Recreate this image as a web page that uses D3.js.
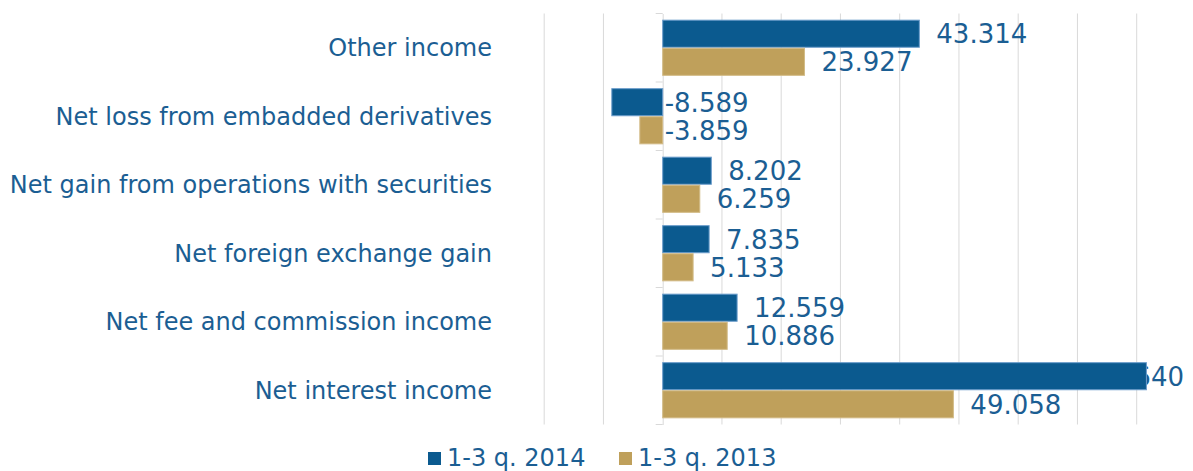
<!DOCTYPE html>
<html>
<head>
<meta charset="utf-8">
<script src="https://cdn.jsdelivr.net/npm/d3@7"></script>
<style>
  body { margin: 0; background: #fff; }
  svg { display: block; font-family: "DejaVu Sans", Verdana, sans-serif; }
</style>
</head>
<body>
<svg id="chart" width="1193" height="471"></svg>
<script>
const categories = [
  "Other income",
  "Net loss from embadded derivatives",
  "Net gain from operations with securities",
  "Net foreign exchange gain",
  "Net fee and commission income",
  "Net interest income"
];
const seriesNames = ["1-3 q. 2014", "1-3 q. 2013"];
const values2014 = [43.314, -8.589, 8.202, 7.835, 12.559, 81.640];
const values2013 = [23.927, -3.859, 6.259, 5.133, 10.886, 49.058];
const valueLabels2014 = ["43.314", "-8.589", "8.202", "7.835", "12.559", "81.640"];
const valueLabels2013 = ["23.927", "-3.859", "6.259", "5.133", "10.886", "49.058"];
const seriesColors = ["#0b5a8f", "#bfa05b"];
const seriesStrokes = ["#6b9ccb", "#d2bb86"];

const svg = d3.select("#chart");
const textColor = "#1b5e93";

const plotTop = 13.5, plotBottom = 424.5, plotRight = 1184;
const x = d3.scaleLinear().domain([-20, 80]).range([544.2, 1136.7]);
const y = d3.scaleBand().domain(categories).range([plotTop, plotBottom])
  .paddingInner(0.18).paddingOuter(0.09);
const ySeries = d3.scaleBand().domain(seriesNames).range([0, y.bandwidth()]);

// gridlines
svg.append("g").selectAll("line").data(x.ticks(10).filter(d => d !== 0)).join("line")
  .attr("x1", d => x(d)).attr("x2", d => x(d))
  .attr("y1", plotTop).attr("y2", plotBottom)
  .attr("stroke", "#d9d9d9").attr("stroke-width", 1);

// category axis at zero
const axis = d3.axisLeft(y).tickSize(0).tickFormat("");
const axisG = svg.append("g").attr("transform", `translate(${x(0)},0)`).call(axis);
axisG.select(".domain").attr("stroke", "#d9d9d9");
// boundary ticks between categories
const bounds = d3.range(categories.length + 1).map(i => plotTop + i * y.step());
svg.append("g").selectAll("line").data(bounds).join("line")
  .attr("x1", x(0) - 7).attr("x2", x(0))
  .attr("y1", d => d).attr("y2", d => d)
  .attr("stroke", "#d9d9d9").attr("stroke-width", 1);

// category labels
svg.append("g").selectAll("text").data(categories).join("text")
  .attr("x", 492).attr("y", d => y(d) + y.bandwidth() / 2)
  .attr("dy", "0.36em").attr("text-anchor", "end")
  .attr("font-size", 24).attr("fill", textColor)
  .text(d => d);

const series = [
  { name: seriesNames[0], values: values2014, labels: valueLabels2014, color: seriesColors[0], stroke: seriesStrokes[0] },
  { name: seriesNames[1], values: values2013, labels: valueLabels2013, color: seriesColors[1], stroke: seriesStrokes[1] }
];

// value labels (drawn under the bars)
const labelG = svg.append("g");
const barG = svg.append("g");
series.forEach(s => {
  categories.forEach((c, i) => {
    const v = s.values[i];
    const yc = y(c) + ySeries(s.name) + ySeries.bandwidth() / 2;
    const t = labelG.append("text")
      .attr("y", yc).attr("dy", "0.36em")
      .attr("font-size", 26).attr("fill", textColor)
      .text(s.labels[i]);
    const len = t.node().getComputedTextLength();
    let lx = v >= 0 ? x(v) + 17 : x(0) + 2;
    lx = Math.min(lx, plotRight - len);
    t.attr("x", lx);
  });
  barG.append("g").selectAll("rect").data(categories).join("rect")
    .attr("x", (c, i) => x(Math.min(0, s.values[i])))
    .attr("width", (c, i) => Math.abs(x(s.values[i]) - x(0)))
    .attr("y", c => y(c) + ySeries(s.name) + 0.5)
    .attr("height", ySeries.bandwidth() - 1)
    .attr("fill", s.color)
    .attr("stroke", s.stroke).attr("stroke-width", 1);
});

// legend
const legend = svg.append("g");
const legendX = [428, 619];
series.forEach((s, i) => {
  legend.append("rect")
    .attr("x", legendX[i]).attr("y", 452).attr("width", 13).attr("height", 13)
    .attr("fill", s.color);
  legend.append("text")
    .attr("x", legendX[i] + 19).attr("y", 466)
    .attr("font-size", 24).attr("fill", textColor)
    .text(s.name);
});
</script>
</body>
</html>
